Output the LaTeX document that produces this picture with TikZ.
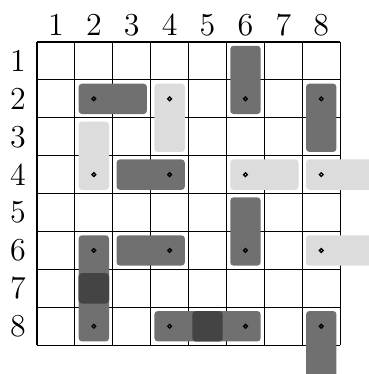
\documentclass[tikz,border=0pt]{standalone}
\usepackage{tikz}
\definecolor{carDark}{RGB}{112,112,112}
\definecolor{carLight}{RGB}{220,220,220}
\definecolor{carOver}{RGB}{68,68,68}

\begin{document}
\begin{tikzpicture}[x=0.5cm, y=0.5cm, font=\large,
    car/.style={rounded corners=1.2pt},
    head/.style={draw=black, line width=0.5pt}]
  \useasboundingbox (-0.976,-8.76) rectangle (8.76,1.108);
  \clip (-0.976,-8.76) rectangle (8.76,1.108);
  \draw[line width=0.4pt, step=0.5cm] (0,0) grid (8,-8);
  % column and row numbers
  \foreach \i in {1,...,8} {
    \node (col\i) at (\i-0.5, 0.45) {\i};
    \node (row\i) at (-0.5, -\i+0.5) {\i};
  }
  % cars: first cell / last cell / colour / marked cell
  \foreach \ca/\ra/\cb/\rb/\col/\hc/\hr in {
      2/2/3/2/carDark/2/2, 6/1/6/2/carDark/6/2, 8/2/8/3/carDark/8/2,
      4/2/4/3/carLight/4/2, 2/3/2/4/carLight/2/4, 3/4/4/4/carDark/4/4,
      6/4/7/4/carLight/6/4, 8/4/9/4/carLight/8/4, 6/5/6/6/carDark/6/6,
      2/6/2/7/carDark/2/6, 3/6/4/6/carDark/4/6, 8/6/9/6/carLight/8/6,
      2/7/2/8/carDark/2/8, 4/8/5/8/carDark/4/8, 5/8/6/8/carDark/6/8,
      8/8/8/9/carDark/8/8} {
    \fill[car, \col] (\ca-0.9, -\ra+0.9) rectangle (\cb-0.1, -\rb+0.1);
    \draw[head] (\hc-0.5, -\hr+0.5) circle (0.7pt);
  }
  % overlapping cells
  \foreach \c/\r in {2/7, 5/8}
    \fill[car, carOver] (\c-0.9, -\r+0.9) rectangle (\c-0.1, -\r+0.1);
\end{tikzpicture}
\end{document}
